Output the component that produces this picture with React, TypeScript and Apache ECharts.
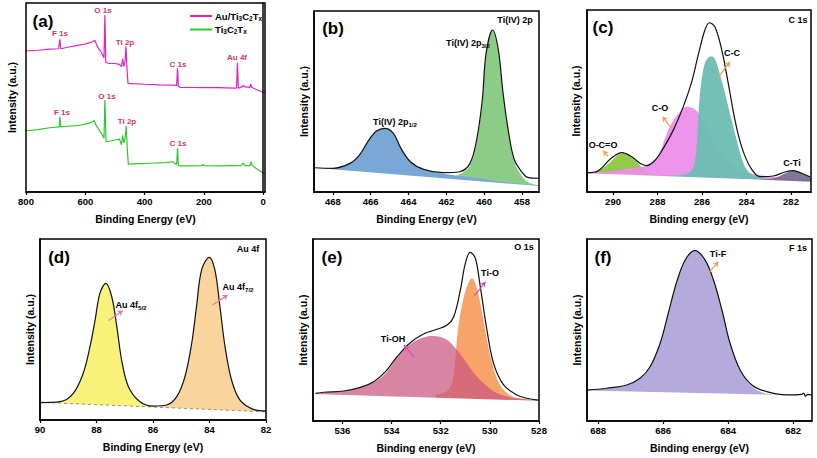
import React, { useEffect, useRef } from 'react';
import * as echarts from 'echarts';

const FONT = '"Liberation Sans", Arial, sans-serif';

// ---------- (a) survey spectra [binding energy eV, intensity] ----------
const surveyAuTi: number[][] = [
  [800, 74.6], [760, 75], [720, 75.6], [690, 75.8], [686, 80.8], [683, 75.8], [660, 76.6], [630, 77.4],
  [600, 78.3], [585, 79], [575, 79.6], [568, 80.3], [562, 78], [556, 76], [548, 74.5], [540, 72],
  [537, 71], [534, 93.7], [531, 68.5], [520, 68], [500, 68], [485, 67.5], [478, 66.3], [474, 70.5],
  [470, 66.5], [466, 69], [463, 77], [459, 64], [456, 57.5], [440, 57.3], [400, 57], [350, 56.7],
  [300, 56.5], [292, 56.3], [289, 65.4], [286, 56], [280, 55.4], [240, 55.3], [204, 55.2], [150, 55.2],
  [100, 55], [90, 55], [87, 68.5], [84, 55], [75, 55.3], [67, 56.3], [60, 55.6], [45, 55.4],
  [42, 57], [39, 55.4], [20, 54], [0, 52.8], [-6, 52.6],
];
const surveyTi: number[][] = [
  [800, 32.4], [760, 33], [720, 34], [700, 34.3], [688, 34.5], [686, 39.8], [683, 34.5], [660, 34.8],
  [620, 35.3], [590, 36.3], [578, 37], [570, 37.8], [563, 35], [556, 33.5], [548, 31.5], [540, 29.5],
  [537, 28.5], [534, 48.7], [530, 26.6], [515, 27], [500, 27.5], [485, 28], [478, 25], [474, 30],
  [470, 26], [466, 28], [462, 34.9], [458, 22], [455, 14.8], [420, 15], [380, 15.2], [330, 15.5],
  [305, 16], [298, 15], [292, 14.5], [289, 23.1], [286, 14], [280, 13.8], [240, 13.8], [207, 13.9],
  [204, 14.6], [200, 13.9], [150, 13.8], [100, 14], [75, 13.9], [67, 15.3], [62, 14], [45, 14],
  [41, 16], [37, 14], [20, 12], [0, 10], [-6, 9.8],
];

// ---------- (b) Ti 2p ----------
const tiEnvelope: number[][] = [
  [469, 13.4], [468, 13.1], [467.1, 15.8], [466.6, 20.4], [466.1, 28.7], [465.7, 33.7], [465.25, 35.2],
  [464.8, 32.4], [464.4, 24.1], [463.9, 16.7], [463.2, 12.5], [462.2, 10.7], [461.3, 11.2], [460.75, 15.8],
  [460.4, 28.7], [460.1, 50.8], [459.9, 76.6], [459.55, 89.5], [459.25, 78.5], [459.0, 54.5], [458.7, 32.4],
  [458.4, 17.7], [457.95, 10.3], [457.7, 8.1], [457.1, 7.6],
];
const ti2p12: number[][] = [
  [469, 13.4], [468, 13.1], [467.1, 15.8], [466.6, 20.4], [466.1, 28.7], [465.7, 33.7], [465.25, 35.2],
  [464.8, 32.4], [464.4, 24.1], [463.9, 16.7], [463.2, 12.3], [462.2, 10.2], [461.3, 8.8], [460.3, 7.6],
  [459.2, 5.9], [458.2, 4.6], [457.1, 3.5],
];
const ti2p32: number[][] = [
  [463, 8.3], [462, 8.4], [461.3, 9.8], [460.75, 14.5], [460.4, 27.5], [460.1, 50], [459.9, 76],
  [459.55, 89.3], [459.25, 78], [459.0, 54], [458.7, 31.5], [458.4, 16.5], [457.95, 8], [457.7, 5.5],
  [457.1, 3.4],
];
const tiBackground: number[][] = [[469, 13.4], [457.1, 3.3]];

// ---------- (c) C 1s ----------
const cEnvelope: number[][] = [
  [291.17, 10.6], [290.66, 11.7], [290.13, 18], [289.6, 21.6], [289.16, 19.4], [288.79, 15.8], [288.49, 14.5],
  [288.1, 17.6], [287.74, 24], [287.29, 34], [286.84, 46.9], [286.46, 60.6], [286.17, 75.3], [285.87, 89],
  [285.67, 93], [285.42, 90.8], [285.11, 78], [284.82, 59.7], [284.52, 39.6], [284.22, 24.9], [283.84, 13.9],
  [283.39, 8.4], [282.8, 8.8], [282.27, 11], [281.9, 11.7], [281.52, 10.3], [281.15, 8.4],
];
const cOCO: number[][] = [
  [291.17, 10.4], [290.7, 11.6], [290.3, 14.5], [290.0, 18], [289.75, 20.6], [289.5, 21.3], [289.25, 20.2],
  [289.0, 17.3], [288.7, 13.5], [288.4, 10.8], [288.0, 9.6], [287, 9.0], [285, 8.0], [283, 7.2], [281.1, 6.0],
];
const cCO: number[][] = [
  [291.17, 10.4], [290.5, 11], [290, 11.6], [289.5, 12.5], [289, 13.4], [288.6, 14.0], [288.3, 15.5],
  [287.95, 20.5], [287.6, 31.5], [287.3, 39], [287.0, 44], [286.69, 46.9], [286.4, 46], [286.1, 42.5],
  [285.8, 36], [285.5, 28.5], [285.2, 21.5], [284.9, 16.6], [284.6, 13.8], [284.3, 12.1], [283.7, 9.9],
  [283.1, 8.8], [282.5, 7.9], [281.1, 6.6],
];
const cCC: number[][] = [
  [288, 8.8], [287, 9.2], [286.6, 10.5], [286.4, 13], [286.28, 20], [286.2, 33], [286.12, 50], [286.0, 63],
  [285.87, 70.7], [285.7, 74], [285.54, 74.4], [285.4, 72.5], [285.2, 65], [285.0, 56], [284.89, 50.5],
  [284.7, 41], [284.44, 28.6], [284.14, 15.8], [283.9, 11], [283.69, 9.3], [283.3, 7.8], [282.5, 6.8],
  [281.1, 5.8],
];
const cCTi: number[][] = [
  [283.4, 6.9], [283, 7.1], [282.6, 8.2], [282.3, 10], [282.05, 11.4], [281.85, 11.7], [281.6, 10.9],
  [281.4, 9.6], [281.1, 8.3],
];
const cBackground: number[][] = [[291.17, 10.3], [281.1, 5.7]];

// ---------- (d) Au 4f ----------
const auEnvelope: number[][] = [
  [90, 9.6], [89.29, 10.1], [88.82, 14.7], [88.47, 25.8], [88.23, 40.5], [88.05, 55.2], [87.88, 70],
  [87.67, 75.5], [87.46, 68.1], [87.28, 51.5], [87.11, 33.1], [86.87, 18.4], [86.46, 10.1], [85.99, 7.7],
  [85.52, 8.3], [85.16, 12.9], [84.87, 23.9], [84.63, 42.4], [84.46, 62.6], [84.28, 82.9], [84.01, 89.9],
  [83.81, 82.9], [83.63, 62.6], [83.45, 40.5], [83.22, 22.1], [82.92, 11], [82.45, 5.9], [82, 5],
];
const au4f52: number[][] = [
  [90, 9.8], [89.3, 10.1], [88.82, 14.6], [88.47, 25.7], [88.23, 40.4], [88.05, 55.1], [87.88, 69.9],
  [87.67, 75.4], [87.46, 68], [87.28, 51.4], [87.11, 33], [86.87, 18.2], [86.46, 9.4], [86.0, 7.4],
  [85.5, 7.0], [84, 6.1], [82, 5.0],
];
const au4f72: number[][] = [
  [87, 8.0], [86, 7.3], [85.52, 8.0], [85.16, 12.6], [84.87, 23.8], [84.63, 42.3], [84.46, 62.5],
  [84.28, 82.8], [84.01, 89.8], [83.81, 82.8], [83.63, 62.5], [83.45, 40.4], [83.22, 22], [82.92, 10.8],
  [82.45, 5.8], [82, 4.8],
];
const auBackground: number[][] = [[90, 9.8], [82, 4.5]];

// ---------- (e) O 1s ----------
const oEnvelope: number[][] = [
  [537.1, 15.2], [536.76, 15.8], [535.95, 16.5], [535.27, 18.5], [534.73, 21.6], [534.25, 27.1],
  [533.78, 35.3], [533.24, 43], [532.7, 47.8], [532.15, 50.4], [531.74, 52.7], [531.47, 57.3], [531.2, 72],
  [531.0, 86.6], [530.8, 92.7], [530.59, 89.4], [530.39, 73.8], [530.12, 50], [529.85, 31.7], [529.44, 19.8],
  [528.9, 14.3], [528.49, 12.5], [528.02, 11.5],
];
const oTiOH: number[][] = [
  [537.1, 15.2], [536, 16.4], [535.3, 18.3], [534.7, 21.4], [534.2, 26.8], [533.8, 34.3], [533.3, 41.5],
  [532.8, 45.5], [532.3, 46.7], [531.8, 45], [531.4, 40], [531, 33], [530.6, 25.5], [530.2, 20], [529.8, 16],
  [529.3, 13.5], [528.8, 12.3], [528, 11.3],
];
const oTiO: number[][] = [
  [532.2, 14.6], [531.8, 16], [531.6, 19], [531.5, 23], [531.4, 35], [531.3, 50], [531.1, 66], [530.9, 75],
  [530.73, 78.4], [530.55, 74], [530.35, 62], [530.15, 47], [529.95, 34], [529.7, 23], [529.4, 16.5],
  [529.0, 13], [528.5, 11.8], [528, 11.2],
];
const oBackground: number[][] = [[537.2, 14.9], [528, 11.1]];

// ---------- (f) F 1s ----------
const fEnvelope: number[][] = [
  [688.34, 17], [687.73, 18], [687.12, 19.8], [686.71, 23.5], [686.4, 29.8], [686.09, 42.7], [685.84, 59.2],
  [685.58, 76.5], [685.32, 88.5], [685.02, 93.6], [684.71, 88.5], [684.45, 77.5], [684.19, 61],
  [683.94, 42.7], [683.63, 28], [683.27, 19.8], [682.81, 16.1], [682.19, 14.3], [681.75, 14.6],
  [681.68, 15.3], [681.62, 13.6], [681.55, 14.6], [681.42, 14.3],
];
const fTiF: number[][] = [
  [688.34, 16.9], [687.73, 17.8], [687.12, 19.6], [686.71, 23.3], [686.4, 29.6], [686.09, 42.5],
  [685.84, 59], [685.58, 76.3], [685.32, 88.3], [685.02, 93.4], [684.71, 88.3], [684.45, 77.3],
  [684.19, 60.8], [683.94, 42.5], [683.63, 27.8], [683.27, 19], [682.9, 15.4], [682.6, 14.6], [681.42, 14.0],
];
const fBackground: number[][] = [[688.34, 16.8], [681.42, 14.0]];

// ---------- arrows [from, to] ----------
const cArrows = [[[285.27, 63], [284.74, 71.6]], [[287.36, 35], [287.77, 41.4]], [[290.21, 19.4], [290.44, 22.7]]];
const dArrows = [[[87.58, 54.9], [87.07, 60.4]], [[83.89, 63.5], [83.36, 69.1]]];
const eArrows = [[[530.63, 68.7], [530.18, 76.5]], [[533.1, 35.3], [533.5, 41.8]]];
const fArrows = [[[684.68, 79.7], [684.3, 87.5]]];

// ---------- axes ----------
const xMins = [-6, 457.1, 281.1, 82, 528, 681.42];
const xMaxs = [800, 469, 291.17, 90, 537.2, 688.34];
const xTicks = [
  [0, 200, 400, 600, 800],
  [458, 460, 462, 464, 466, 468],
  [282, 284, 286, 288, 290],
  [82, 84, 86, 88, 90],
  [528, 530, 532, 534, 536],
  [682, 684, 686, 688],
];
const xNames = [
  'Binding Energy (eV)', 'Binding Energy (eV)', 'Binding energy (eV)',
  'Binding Energy (eV)', 'Binding energy (eV)', 'Binding energy (eV)',
];
const grids = [
  { left: 26, top: 3, width: 239, height: 189 },
  { left: 314, top: 11, width: 225, height: 181 },
  { left: 587, top: 10, width: 224, height: 182 },
  { left: 40, top: 239, width: 226, height: 181 },
  { left: 313, top: 239, width: 226, height: 182 },
  { left: 587, top: 239, width: 225, height: 182 },
];
const yNameGaps = [9, 5, 6, 5, 5, 5];

function buildOption(): any {
  const grid = grids.map((g) => ({
    ...g, show: true, borderColor: '#000', borderWidth: 1.5, backgroundColor: 'transparent', z: 10,
  }));
  const xAxis = grids.map((_, i) => ({
    type: 'value', gridIndex: i, inverse: true, min: xMins[i], max: xMaxs[i],
    axisLine: { show: true, lineStyle: { color: '#000', width: 1.5 } },
    axisTick: { show: true, length: 3, customValues: xTicks[i], lineStyle: { color: '#000', width: 1.2 } },
    axisLabel: { customValues: xTicks[i], fontSize: 9.5, fontWeight: 'bold', color: '#000', margin: 4, fontFamily: FONT },
    splitLine: { show: false },
    name: xNames[i], nameLocation: 'middle', nameGap: 21,
    nameTextStyle: { fontSize: 10.5, fontWeight: 'bold', color: '#000', fontFamily: FONT },
    z: 10,
  }));
  const yAxis = grids.map((_, i) => ({
    type: 'value', gridIndex: i, min: 0, max: 100,
    axisLine: { show: true, lineStyle: { color: '#000', width: 1.5 } },
    axisTick: { show: false }, axisLabel: { show: false }, splitLine: { show: false },
    name: 'Intensity (a.u.)', nameLocation: 'middle', nameGap: yNameGaps[i],
    nameTextStyle: { fontSize: 10.5, fontWeight: 'bold', color: '#000', fontFamily: FONT },
    z: 10,
  }));

  const area = (idx: number, data: number[][], color: string, opacity = 0.9) => ({
    type: 'line', xAxisIndex: idx, yAxisIndex: idx, data, smooth: 0.35, showSymbol: false, symbol: 'none',
    lineStyle: { width: 0 }, areaStyle: { color, opacity }, silent: true,
  });
  const cover = (idx: number, data: number[][], dashed = false) => ({
    type: 'line', xAxisIndex: idx, yAxisIndex: idx, data, showSymbol: false, symbol: 'none',
    lineStyle: dashed ? { width: 0.8, color: '#777', type: [3, 3] } : { width: 0 },
    areaStyle: { color: '#ffffff', opacity: 1 }, silent: true,
  });
  const env = (idx: number, data: number[][]) => ({
    type: 'line', xAxisIndex: idx, yAxisIndex: idx, data, smooth: 0.35, showSymbol: false, symbol: 'none',
    lineStyle: { width: 1.2, color: '#111' }, silent: true,
  });
  const arrows = (idx: number, list: number[][][], color: string) => ({
    type: 'lines', coordinateSystem: 'cartesian2d', xAxisIndex: idx, yAxisIndex: idx,
    symbol: ['none', 'arrow'], symbolSize: 5,
    lineStyle: { color, width: 1.2, opacity: 1 }, data: list.map((c) => ({ coords: c })), z: 5, silent: true,
  });

  const series: any[] = [
    { type: 'line', name: 'Au/Ti3C2Tx', xAxisIndex: 0, yAxisIndex: 0, data: surveyAuTi, showSymbol: false, symbol: 'none',
      lineStyle: { color: '#e020c8', width: 1.2 }, itemStyle: { color: '#e020c8' } },
    { type: 'line', name: 'Ti3C2Tx', xAxisIndex: 0, yAxisIndex: 0, data: surveyTi, showSymbol: false, symbol: 'none',
      lineStyle: { color: '#2ec82e', width: 1.2 }, itemStyle: { color: '#2ec82e' } },

    area(1, ti2p32, '#8dcc86', 1), area(1, ti2p12, '#7aa8d6', 1), cover(1, tiBackground), env(1, tiEnvelope),

    area(2, cOCO, '#8ec63f', 0.95), area(2, cCO, '#ec8cea', 0.92), area(2, cCC, '#6dbdb3', 0.95),
    area(2, cCTi, '#7d6e96', 0.95), cover(2, cBackground), env(2, cEnvelope), arrows(2, cArrows, '#f0a050'),

    area(3, au4f52, '#f8f27a', 1), area(3, au4f72, '#f9d49c', 1), cover(3, auBackground, true), env(3, auEnvelope),
    arrows(3, dArrows, '#e07aa0'),

    area(4, oTiO, '#f6a46a', 1), area(4, oTiOH, '#cc5580', 0.72), cover(4, oBackground), env(4, oEnvelope),
    arrows(4, eArrows, '#d050b0'),

    area(5, fTiF, '#b4aadc', 1), cover(5, fBackground), env(5, fEnvelope), arrows(5, fArrows, '#e8a070'),
  ];

  const txt = (x: number, y: number, text: string, size: number, fill = '#000', align = 'center', rich?: any) => ({
    type: 'text', x, y, z: 30, silent: true,
    style: { text, fontSize: size, fontWeight: 'bold', fill, align, verticalAlign: 'middle',
      textAlign: align, textVerticalAlign: 'middle', fontFamily: FONT, rich },
  });
  const subRich = (size: number) => ({
    n: { fontSize: size, fontWeight: 'bold', fill: '#000', fontFamily: FONT },
    s: { fontSize: size * 0.68, fontWeight: 'bold', fill: '#000', fontFamily: FONT, verticalAlign: 'bottom', padding: [size * 0.45, 0, 0, 0] },
  });
  const pinkLbl = '#d6336c';
  const graphic = [
    txt(43, 21, '(a)', 17), txt(333, 28, '(b)', 17), txt(603, 27, '(c)', 17),
    txt(59, 257, '(d)', 17), txt(332, 257, '(e)', 17), txt(603, 257, '(f)', 17),
    txt(60, 33, 'F 1s', 8, pinkLbl), txt(103, 10, 'O 1s', 8, pinkLbl), txt(125, 42, 'Ti 2p', 8, pinkLbl),
    txt(178, 64, 'C 1s', 8, pinkLbl), txt(237, 57, 'Au 4f', 8, pinkLbl),
    txt(62, 112, 'F 1s', 8, pinkLbl), txt(107, 96, 'O 1s', 8, pinkLbl), txt(127, 121, 'Ti 2p', 8, pinkLbl),
    txt(178, 143, 'C 1s', 8, pinkLbl),
    txt(515, 20, 'Ti(IV) 2p', 9),
    txt(468, 43, '{n|Ti(IV) 2p}{s|3/2}', 9, '#000', 'center', subRich(9)),
    txt(395, 122, '{n|Ti(IV) 2p}{s|1/2}', 9, '#000', 'center', subRich(9)),
    txt(798, 20, 'C 1s', 9), txt(732, 53, 'C-C', 9), txt(660, 108, 'C-O', 9), txt(603, 145, 'O-C=O', 9),
    txt(792, 163, 'C-Ti', 9),
    txt(248, 249, 'Au 4f', 9),
    txt(131, 305, '{n|Au 4f}{s|5/2}', 9, '#000', 'center', subRich(9)),
    txt(238, 287, '{n|Au 4f}{s|7/2}', 9, '#000', 'center', subRich(9)),
    txt(524, 247, 'O 1s', 9), txt(490, 273, 'Ti-O', 9), txt(393, 339, 'Ti-OH', 9),
    txt(798, 248, 'F 1s', 9), txt(718, 254, 'Ti-F', 9),
  ];

  return {
    animation: false,
    backgroundColor: '#fff',
    textStyle: { fontFamily: FONT },
    grid, xAxis, yAxis, series, graphic,
    legend: {
      show: true, orient: 'vertical', left: 185, top: 6, itemWidth: 22, itemHeight: 2, itemGap: 3, icon: 'rect',
      data: ['Au/Ti3C2Tx', 'Ti3C2Tx'],
      formatter: (n: string) => (n === 'Au/Ti3C2Tx' ? '{n|Au/Ti}{s|3}{n|C}{s|2}{n|T}{s|x}' : '{n|Ti}{s|3}{n|C}{s|2}{n|T}{s|x}'),
      textStyle: {
        padding: [0, 0, 0, -2],
        rich: {
          n: { fontSize: 9.5, fontWeight: 'bold', color: '#000', fontFamily: FONT },
          s: { fontSize: 6.5, fontWeight: 'bold', color: '#000', fontFamily: FONT, verticalAlign: 'bottom', padding: [4, 0, 0, 0] },
        },
      },
    },
  };
}

export default function App() {
  const ref = useRef<HTMLDivElement>(null);
  useEffect(() => {
    if (!ref.current) return;
    const chart = echarts.init(ref.current, null, { renderer: 'svg' });
    chart.setOption(buildOption());
    return () => chart.dispose();
  }, []);
  return (
    <div
      ref={ref}
      style={{ position: 'fixed', left: 0, top: 0, width: 817, height: 458, background: '#fff' }}
    />
  );
}
